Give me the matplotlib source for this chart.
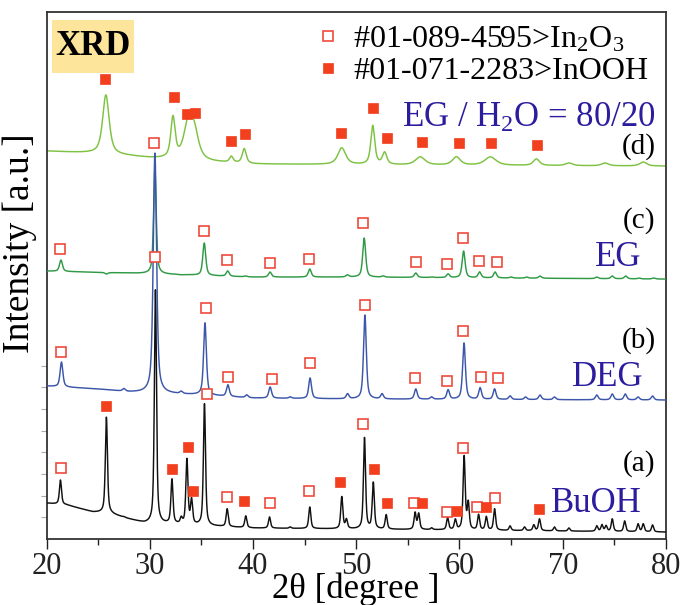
import numpy as np
import matplotlib
matplotlib.use("Agg")
import matplotlib.pyplot as plt
from matplotlib.lines import Line2D
from matplotlib.patches import Rectangle

plt.rcParams['font.family'] = ['Liberation Serif', 'DejaVu Serif']
plt.rcParams['mathtext.fontset'] = 'custom'
plt.rcParams['mathtext.rm'] = 'Liberation Serif'
plt.rcParams['mathtext.it'] = 'Liberation Serif:italic'

# ---------------- data ----------------
# (a) BuOH : peak positions (2theta), peak tops ; baseline anchors
a_pos = [21.35, 25.8, 27.5, 30.55, 32.15, 33.05, 33.6, 34.05, 35.3, 37.5, 39.3, 41.6, 43.6,
         45.5, 48.6, 49.05, 50.8, 51.65, 52.9, 55.7, 56.05, 57.3, 58.85, 59.6, 60.45, 60.85,
         61.85, 62.6, 63.4, 64.9, 66.3, 67.2, 67.75, 69.2, 70.6, 73.3, 73.8, 74.2, 74.8, 76.0,
         77.3, 77.8, 78.7]
a_top = [59, 122, 22, 249, 59, 20, 79, 38, 135, 30, 23, 22, 12,
         32, 42, 19, 101, 56, 24, 26, 25, 11, 21, 19, 82, 35,
         24, 22, 30, 13, 12, 14, 20, 12, 11, 13, 14, 13, 20, 18,
         15, 15, 14]
a_base_x = [20, 22, 24.5, 26, 28, 29.5, 32, 36, 40, 50, 60, 70, 80]
a_base_y = [36, 34, 27, 26, 20, 16, 15, 13, 11, 10, 9, 8, 7]

# (b) DEG
b_pos = [21.45, 27.5, 30.5, 33.05, 35.35, 37.57, 39.4, 41.66, 43.6, 45.53, 49.16, 50.84, 52.5,
         55.77, 57.3, 58.9, 60.44, 62.0, 63.4, 64.9, 66.4, 67.8, 69.2, 73.3, 74.8, 76.06,
         77.3, 78.7]
b_top = [177, 150, 386, 147, 216, 154, 144, 152, 142, 161, 145, 224, 145,
         150, 142, 149, 196, 151, 150, 143, 142, 144, 142, 144, 145, 145,
         142, 143]
b_base_x = [20, 25, 28, 35, 40, 50, 80]
b_base_y = [153, 150, 147, 144, 141, 140, 139]

# (c) EG
c_pos = [21.4, 25.8, 30.5, 33.0, 35.28, 37.55, 39.3, 41.65, 43.6, 45.5, 49.15, 50.77, 52.6,
         55.77, 57.3, 58.9, 60.4, 61.95, 63.45, 65.0, 66.5, 67.8, 73.3, 74.8, 76.1, 77.4, 78.8]
c_top = [279, 265, 370, 264, 296, 268, 263, 267, 262, 270, 264, 301, 263,
         266, 262, 265, 288, 267, 267, 262, 262, 263, 262, 263, 263, 261, 261]
c_base_x = [20, 28, 40, 50, 80]
c_base_y = [268, 266, 262, 262, 260]

# (d) EG / H2O = 80/20
d_pos = [25.75, 32.25, 33.7, 34.3, 37.9, 39.15, 48.6, 51.6, 52.75, 56.2, 59.7, 63.0, 67.45,
         70.6, 74.1, 77.8]
d_top = [444, 420, 411, 405, 382, 390, 391, 413, 386, 382, 382, 382, 380,
         376, 376, 377]
d_fwhm = [0.75, 0.5, 1.0, 1.0, 0.4, 0.45, 0.9, 0.45, 0.5, 1.1, 0.9, 1.3, 0.7,
          0.8, 0.8, 0.8]
d_base_x = [20, 24, 28, 30, 36, 40, 55, 80]
d_base_y = [388, 386, 383, 381, 377, 375, 374, 373]

# reference markers: In2O3 (open) and InOOH (filled)
d_open_x = [30.42]
d_open_y = [396]
d_fill_x = [25.7, 32.35, 33.57, 34.35, 37.9, 39.25, 48.55, 51.64, 53.0, 56.4, 59.95, 63.07, 67.46]
d_fill_y = [460, 442, 425, 426, 398, 405, 406, 431, 401, 397, 396, 396, 394]
c_open_x = [21.3, 30.5, 35.28, 37.5, 41.6, 45.4, 50.7, 55.77, 58.8, 60.37, 61.9, 63.6]
c_open_y = [290, 282, 308, 279, 276, 280, 316, 277, 275, 301, 278, 277]
b_open_x = [21.4, 35.4, 37.57, 41.8, 45.53, 50.87, 55.7, 58.76, 60.3, 62.05, 63.7]
b_open_y = [187, 231, 162, 160, 176, 234, 161, 158, 208, 162, 161]
a_open_x = [21.4, 35.5, 37.44, 41.6, 45.46, 50.68, 55.6, 58.8, 60.3, 61.66, 63.4]
a_open_y = [71, 145, 42, 36, 48, 115, 36, 27, 91, 32, 41]
a_fill_x = [25.8, 32.16, 33.7, 34.2, 39.1, 48.45, 51.74, 53.0, 56.4, 59.8, 62.6, 67.7]
a_fill_y = [133, 70, 92, 48, 38, 57, 70, 36, 36, 28, 32, 30]

legend_labels = ['#01-089-4595>In$_2$O$_3$', '#01-071-2283>InOOH']
x_ticks = [20, 30, 40, 50, 60, 70, 80]
y_ticks = [22, 43, 65, 87, 108, 130, 152, 173]

# ---------------- profile construction ----------------
x = np.linspace(20, 80, 4000)


def profile(pos, top, fwhm, bx, by, eta=0.6):
    base = np.interp(x, bx, by)
    y = base.copy()
    for p, t, w in zip(pos, top, fwhm):
        h = t - np.interp(p, bx, by)
        hw = w / 2.0
        lor = 1.0 / (1.0 + ((x - p) / hw) ** 2)
        gau = np.exp(-np.log(2) * ((x - p) / hw) ** 2)
        y += h * (eta * lor + (1 - eta) * gau)
    return y


a_w = [0.24] * len(a_pos)
b_w = [0.32] * len(b_pos)
b_w[2] = 0.38
c_w = [0.34] * len(c_pos)
c_w[2] = 0.3

ya = profile(a_pos, a_top, a_w, a_base_x, a_base_y)
yb = profile(b_pos, b_top, b_w, b_base_x, b_base_y)
yc = profile(c_pos, c_top, c_w, c_base_x, c_base_y)
yd = profile(d_pos, d_top, d_fwhm, d_base_x, d_base_y, eta=0.7)

# ---------------- figure ----------------
fig = plt.figure(figsize=(6.82, 6.05), dpi=100)
ax = fig.add_axes([0.0682, 0.109, 0.9083, 0.871])

ax.plot(x, yd, color='#7dc242', lw=1.05, zorder=2)
ax.plot(x, yc, color='#2f9a45', lw=1.05, zorder=3)
ax.plot(x, yb, color='#3b56aa', lw=1.05, zorder=4)
ax.plot(x, ya, color='#111111', lw=1.05, zorder=5)

red = '#f2401f'
open_kw = dict(ls='none', marker='s', ms=7.2, mfc='white', mec='#ef4a3c', mew=1.2, zorder=8)
fill_kw = dict(ls='none', marker='s', ms=7.8, mfc=red, mec=red, mew=0.5, zorder=8)
ax.plot(d_open_x, d_open_y, **open_kw)
ax.plot(d_fill_x, d_fill_y, **fill_kw)
ax.plot(c_open_x, c_open_y, **open_kw)
ax.plot(b_open_x, b_open_y, **open_kw)
ax.plot(a_open_x, a_open_y, **open_kw)
ax.plot(a_fill_x, a_fill_y, **fill_kw)

ax.set_xlim(20, 80)
ax.set_ylim(0, 527)

# labels
blue = '#2b1d9e'
ax.text(79.0, 421, 'EG / H$_2$O = 80/20', color=blue, fontsize=25, ha='right', va='center')
ax.text(77.6, 282, 'EG', color=blue, fontsize=25, ha='right', va='center')
ax.text(77.8, 162, 'DEG', color=blue, fontsize=25, ha='right', va='center')
ax.text(77.6, 36, 'BuOH', color=blue, fontsize=25, ha='right', va='center')
for lab, yy in [('(d)', 393), ('(c)', 319), ('(b)', 199), ('(a)', 76)]:
    ax.text(79.0, yy, lab, color='black', fontsize=21, ha='right', va='center')

# XRD box
ax.add_patch(Rectangle((0.0089, 0.884), 0.132, 0.101, transform=ax.transAxes,
                       facecolor='#fde59c', edgecolor='none', zorder=6))
ax.text(0.075, 0.934, 'XRD', transform=ax.transAxes, fontsize=25, fontweight='bold',
        ha='center', va='center', zorder=7)

# legend
handles = [Line2D([], [], **open_kw), Line2D([], [], **fill_kw)]
ax.legend(handles, legend_labels, loc='upper left', bbox_to_anchor=(0.405, 1.012),
          frameon=False, fontsize=23, handlelength=0.7, handletextpad=0.45,
          labelspacing=0.07, borderpad=0.1)

# axes styling
ax.set_xticks(x_ticks)
ax.set_xticks([25, 35, 45, 55, 65, 75], minor=True)
ax.set_yticks(y_ticks)
ax.set_yticklabels([])
ax.tick_params(axis='x', which='major', direction='out', length=7, width=1.0,
               labelsize=22, pad=2.5, colors='#222222')
ax.tick_params(axis='x', which='minor', direction='out', length=4, width=1.0, colors='#222222')
ax.tick_params(axis='y', which='major', direction='out', length=4, width=0.8, colors='#aaaaaa')
for sp in ax.spines.values():
    sp.set_linewidth(1.3)
    sp.set_color('#333333')

ax.set_xlabel('2θ [degree ]', fontsize=25, labelpad=-6.5)
ax.set_ylabel('Intensity [a.u.]', fontsize=27)
ax.yaxis.set_label_coords(-0.016, 0.561)

fig.savefig('out.png', dpi=100)
